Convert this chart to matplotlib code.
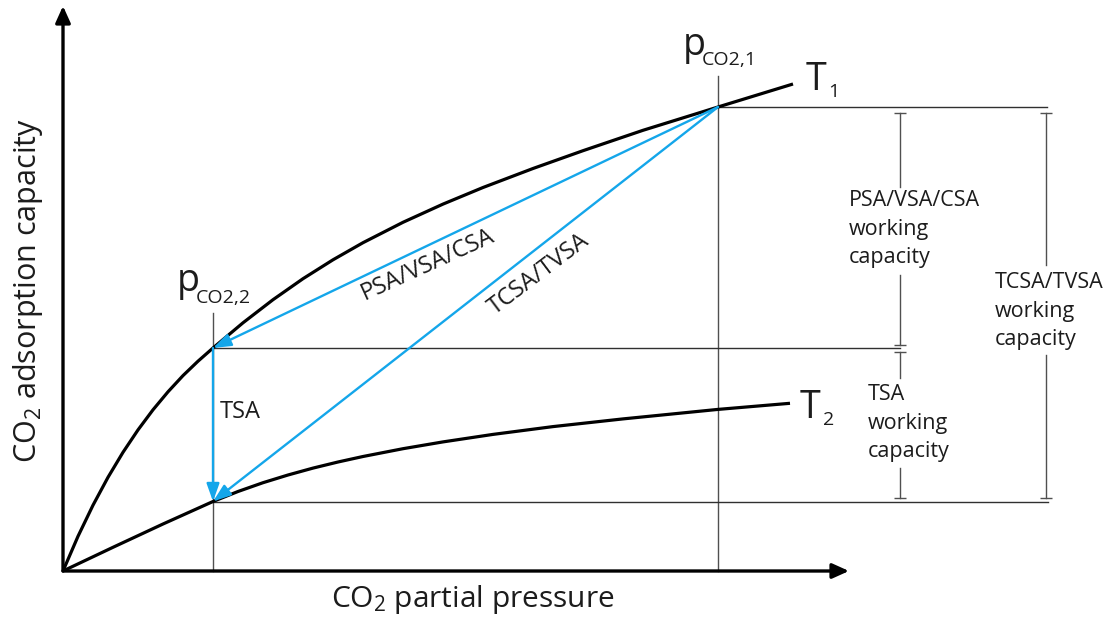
import matplotlib
matplotlib.use("Agg")
import matplotlib.pyplot as plt

plt.rcParams["font.family"] = ["Open Sans", "DejaVu Sans"]
plt.rcParams["mathtext.fontset"] = "custom"
plt.rcParams["mathtext.rm"] = "Open Sans"
plt.rcParams["mathtext.it"] = "Open Sans:italic"

# Adsorption isotherms, arbitrary units (partial pressure, loading)
p_T1 = [0, 15, 30, 45, 60, 75, 90, 105, 120, 135, 150, 180, 210, 240, 270,
        300, 340, 380, 420, 470, 520, 580, 655, 730]
q_T1 = [0, 34.7, 65.8, 93.7, 118.7, 141.1, 161.2, 179.2, 195.4, 209.8, 223,
        248.2, 271.3, 292.3, 311.2, 328.3, 348.7, 366.9, 383.5, 402.5,
        420.3, 440.7, 464, 487]

p_T2 = [0, 50, 100, 150, 175, 200, 225, 250, 275, 300, 340, 380, 430, 490,
        560, 655, 727]
q_T2 = [0, 23.7, 47, 69.5, 79.5, 88.3, 96, 102.9, 109, 114.5, 122.3, 129.1,
        136.6, 144.4, 152.1, 161.6, 167.7]

# Operating points
p_high = 655    # p_CO2,1
p_low = 150     # p_CO2,2
q_high = 464    # loading on T1 at p_CO2,1
q_mid = 223     # loading on T1 at p_CO2,2
q_low = 69.5    # loading on T2 at p_CO2,2

path_labels = ["PSA/VSA/CSA", "TCSA/TVSA", "TSA"]
capacity_labels = ["PSA/VSA/CSA\nworking\ncapacity",
                   "TSA\nworking\ncapacity",
                   "TCSA/TVSA\nworking\ncapacity"]

BLUE = "#14A6EA"
INK = "#1c1c1c"
GUIDE = "#505050"

fig = plt.figure(figsize=(11.07, 6.19), dpi=100)
ax = fig.add_axes([0, 0, 1, 1])
ax.set_xlim(-63, 1044)
ax.set_ylim(-48, 571)
ax.axis("off")

# Coordinate axes with arrow heads
axis_style = dict(arrowstyle="-|>,head_length=1.0,head_width=0.45",
                  mutation_scale=10, lw=2.4, color="black",
                  shrinkA=0, shrinkB=0)
ax.annotate("", xy=(786, 0), xytext=(0, 0), arrowprops=axis_style)
ax.annotate("", xy=(0, 565), xytext=(0, 0), arrowprops=axis_style)

# Guide lines
ax.plot([p_low, p_low], [0, 258], color=GUIDE, lw=1.0, zorder=1)
ax.plot([p_high, p_high], [0, 495], color=GUIDE, lw=1.0, zorder=1)
ax.plot([p_high, 984], [q_high, q_high], color="#303030", lw=1.0, zorder=1)
ax.plot([p_low, 837], [q_mid, q_mid], color="#303030", lw=1.0, zorder=1)
ax.plot([p_low, 985], [q_low, q_low], color="#303030", lw=1.0, zorder=1)

# Isotherms
ax.plot(p_T1, q_T1, color="black", lw=2.3, solid_capstyle="butt",
        solid_joinstyle="round", zorder=3)
ax.plot(p_T2, q_T2, color="black", lw=2.3, solid_capstyle="butt",
        solid_joinstyle="round", zorder=3)

# Working-capacity brackets
def bracket(x, top, bottom, gap_top, gap_bottom):
    ax.plot([x, x], [top, gap_top], color=GUIDE, lw=1.0)
    ax.plot([x, x], [gap_bottom, bottom], color=GUIDE, lw=1.0)
    ax.plot([x, x], [top, bottom], ls="none", marker="_", ms=8,
            mew=1.0, color=GUIDE)

bracket(837, q_high - 6, q_mid + 3, 384, 296)
bracket(837, q_mid - 4, q_low + 4, 193, 103)
bracket(983, q_high - 6, q_low + 4, 306, 216)

# Swing paths
swing_style = dict(arrowstyle="-|>,head_length=0.9,head_width=0.32",
                   mutation_scale=12, lw=1.7, color=BLUE,
                   shrinkA=0, shrinkB=0)
ax.annotate("", xy=(p_low, q_mid), xytext=(p_high, q_high),
            arrowprops=swing_style, zorder=4)
ax.annotate("", xy=(p_low, q_low), xytext=(p_high, q_high),
            arrowprops=swing_style, zorder=4)
ax.annotate("", xy=(p_low, q_low), xytext=(p_low, q_mid),
            arrowprops=swing_style, zorder=4)

path_font = dict(color=INK, fontsize=17)
ax.text(365, 306, path_labels[0], rotation=24.5, ha="center", va="center",
        rotation_mode="anchor", **path_font)
ax.text(476, 297, path_labels[1], rotation=37, ha="center", va="center",
        rotation_mode="anchor", **path_font)
ax.text(p_low + 7, 159, path_labels[2], ha="left", va="center", **path_font)

cap_font = dict(color=INK, fontsize=15.5, linespacing=1.5,
                ha="left", va="center")
ax.text(786, 342, capacity_labels[0], **cap_font)
ax.text(805, 148, capacity_labels[1], **cap_font)
ax.text(932, 260, capacity_labels[2], **cap_font)

# Pressure and temperature labels
big = dict(color=INK, fontsize=27, va="baseline", ha="left")
small = dict(color=INK, fontsize=14, va="baseline", ha="left")
ax.text(p_high - 35, 516, "p", **big)
ax.text(p_high - 16, 506, "CO2,1", **small)
ax.text(p_low - 36, 280, "p", **big)
ax.text(p_low - 17, 268, "CO2,2", **small)

ax.text(743, 481, "T", **big)
ax.text(765, 474, "1", **small)
ax.text(737, 153, "T", **big)
ax.text(760, 146, "2", **small)

# Axis titles
ax.text(-35, 280, "CO$_2$ adsorption capacity", rotation=90,
        ha="center", va="center", color=INK, fontsize=22)
ax.text(410, -29, "CO$_2$ partial pressure", ha="center", va="center",
        color=INK, fontsize=21.5)

fig.savefig("out.png", dpi=100)
